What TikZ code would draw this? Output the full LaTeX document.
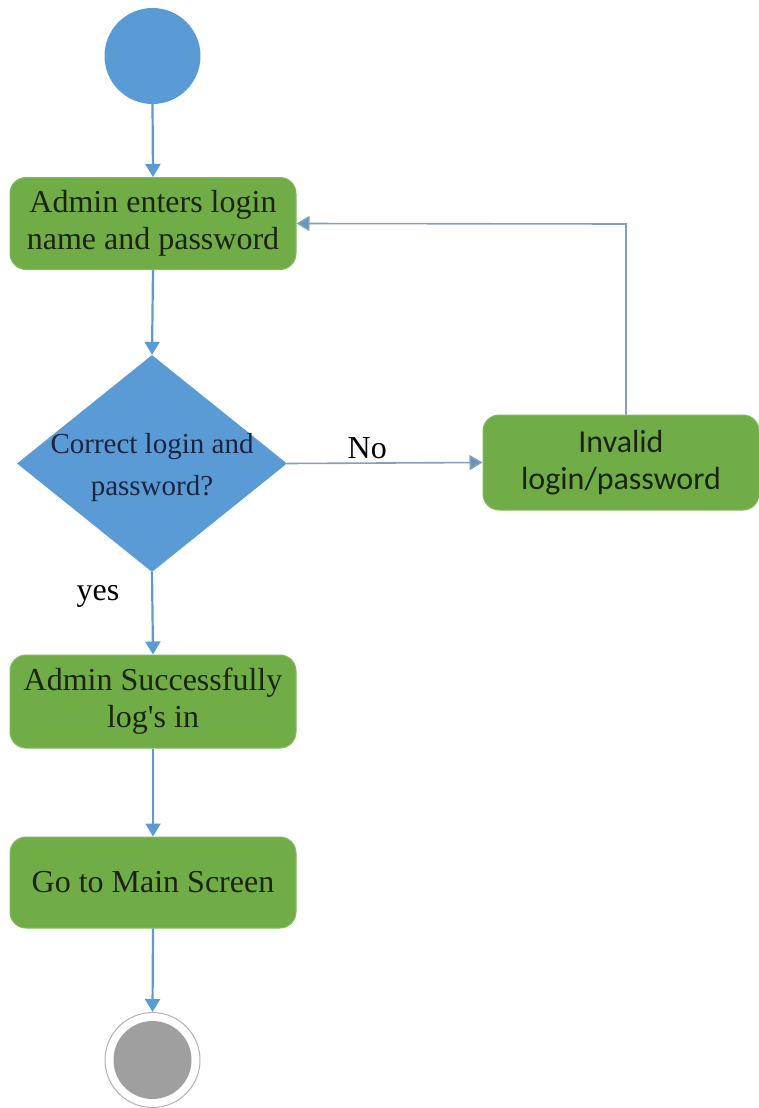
\documentclass[tikz,border=0pt]{standalone}
\usepackage{fontspec}
\setmainfont{Liberation Serif}
\newfontfamily\calib{Carlito}
\usetikzlibrary{arrows.meta,shapes.geometric}
\definecolor{actgreen}{HTML}{70AD47}
\definecolor{flowblue}{HTML}{5B9BD5}
\definecolor{loopblue}{HTML}{7F9FC4}
\definecolor{txtdark}{HTML}{1C2410}
\definecolor{txtnavy}{HTML}{1C2440}
\begin{document}
\begin{tikzpicture}[x=1pt,y=-1pt,
  actbox/.style={draw=actgreen!85!white,fill=actgreen,rounded corners=16pt,line width=1pt,
    minimum width=286pt,minimum height=92pt,text=txtdark,align=center,
    font=\fontsize{32}{37}\selectfont,inner sep=0pt},
  flow/.style={draw=flowblue,line width=2.2pt,-{Triangle[width=15pt,length=13pt]}},
  thinflow/.style={draw=loopblue,line width=1.6pt,-{Triangle[width=15pt,length=13pt,fill=flowblue!80!gray]}},
  lbl/.style={text=black,font=\fontsize{32}{37}\selectfont,inner sep=0pt}]
\useasboundingbox (0,0) rectangle (759,1108);
\node[circle,fill=flowblue,draw=none,minimum size=96pt,inner sep=0pt] (start) at (152.5,56) {};
\node[actbox] (enter) at (153,223.5) {Admin enters login\\name and password};
\node[diamond,fill=flowblue,draw=none,minimum width=270pt,minimum height=217pt,inner sep=0pt,
  aspect=1.244] (dec) at (152,463.5) {};
\node[text=txtnavy,align=center,font=\fontsize{29}{42}\selectfont,inner sep=0pt] (dectext) at (152,468) {Correct login and\\password?};
\node[actbox,minimum width=276pt,minimum height=95pt,font=\calib\fontsize{32}{37}\selectfont] (inval) at (621,462.5) {Invalid\\login/password};
\node[actbox,minimum height=93pt] (succ) at (153,701.5) {Admin Successfully\\log\textquotesingle s in};
\node[actbox,minimum height=91pt] (main) at (153,882.5) {Go to Main Screen};
\node[circle,draw=gray!60,line width=1pt,fill=white,minimum size=95pt,inner sep=0pt] (end) at (152.5,1060) {};
\node[circle,fill=gray!75,draw=none,minimum size=78pt,inner sep=0pt] (endin) at (end.center) {};
\coordinate (turn) at (626,224);
\draw[flow] (start.south) -- (enter.north);
\draw[flow] (enter.south) -- (dec.north);
\draw[thinflow] (dec.east) -- node[lbl,above=3pt,pos=0.41] {No} (inval.west);
\draw[thinflow] (inval.north -| turn) -- (turn) -- (enter.east);
\draw[flow] (dec.south) -- node[lbl,pos=0.3,left=32pt] {yes} (succ.north);
\draw[flow] (succ.south) -- (main.north);
\draw[flow] (main.south) -- (end.north);
\end{tikzpicture}
\end{document}
